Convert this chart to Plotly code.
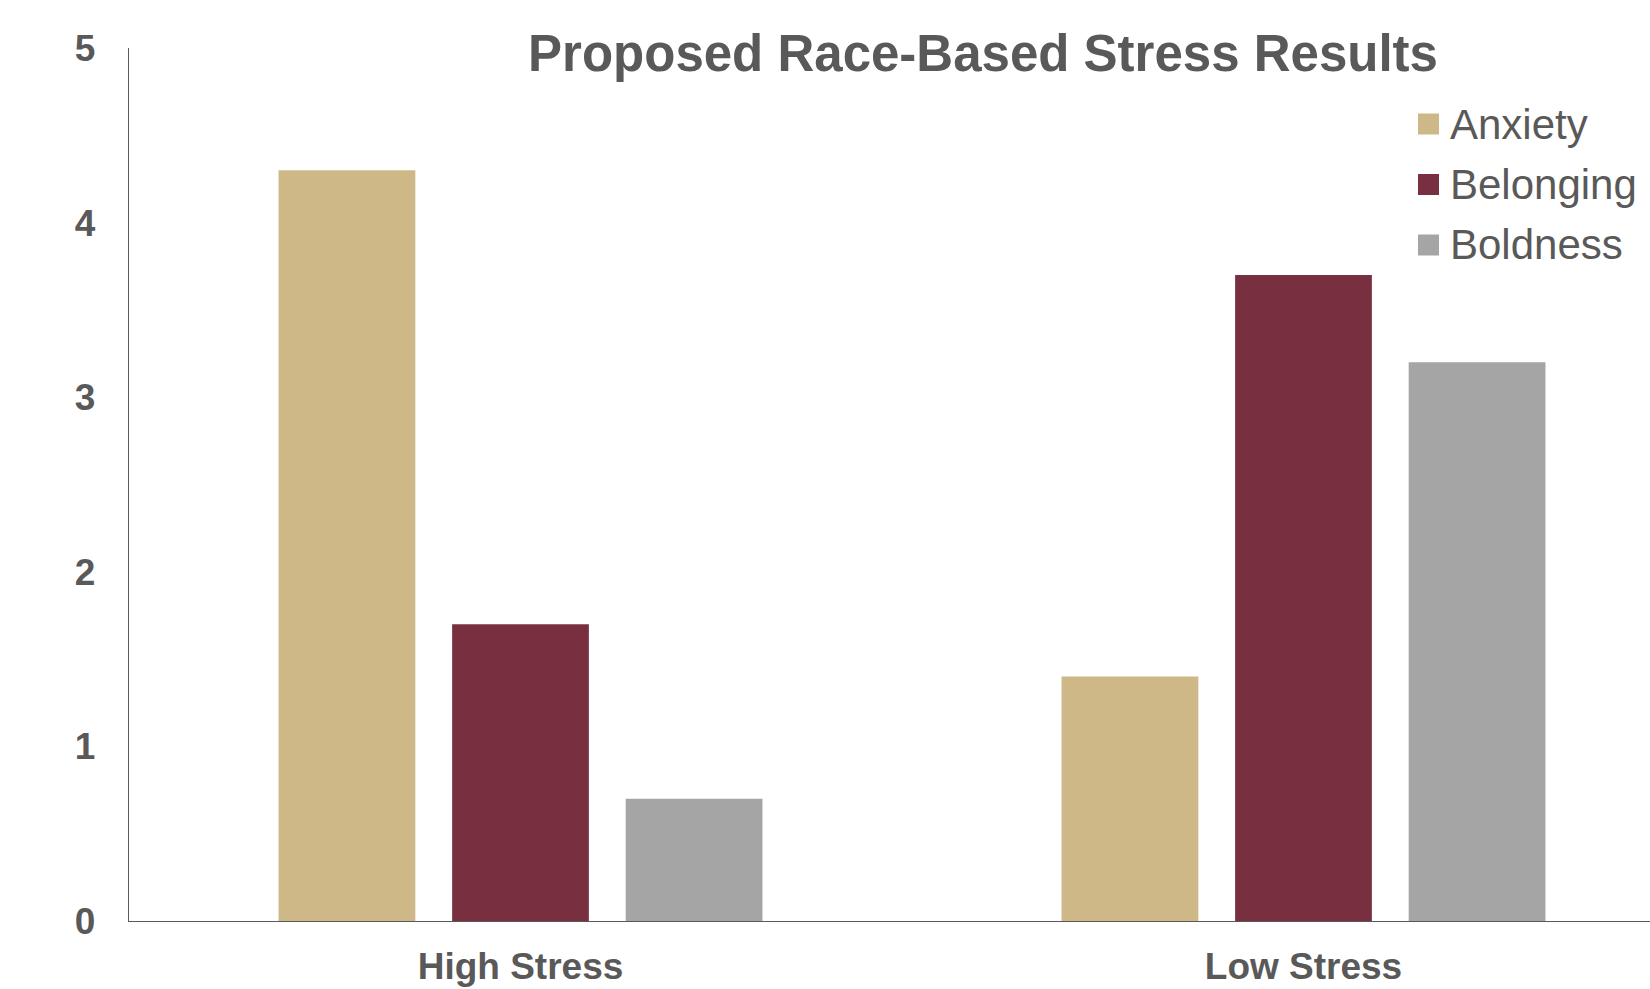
import plotly.graph_objects as go

# Chart data
categories = ["High Stress", "Low Stress"]
series_names = ["Anxiety", "Belonging", "Boldness"]
anxiety = [4.3, 1.4]
belonging = [1.7, 3.7]
boldness = [0.7, 3.2]
series_values = [anxiety, belonging, boldness]
series_colors = ["#CEB888", "#782F40", "#A5A5A5"]
y_ticks = [0, 1, 2, 3, 4, 5]

W, H = 1650, 989
ML, MR, MT, MB = 129, 0, 48, 68
FONT = "Arial, Liberation Sans, sans-serif"
GRAY = "#595959"

fig = go.Figure()
for name, vals, col in zip(series_names, series_values, series_colors):
    fig.add_trace(go.Bar(
        x=categories, y=vals, name=name,
        marker=dict(color=col, line=dict(width=0)),
        showlegend=False,
    ))

# Custom legend: colored squares with labels on the upper right
plot_w = W - ML - MR
plot_h = H - MT - MB
def px_to_paper(px, py):
    return (px - ML) / plot_w, (H - MB - py) / plot_h

shapes = []
annotations = []
sq = 21
for i, (name, col) in enumerate(zip(series_names, series_colors)):
    cy = 124 + i * 60.5
    x0, y0 = px_to_paper(1418, cy + sq / 2)
    x1, y1 = px_to_paper(1418 + sq, cy - sq / 2)
    shapes.append(dict(type="rect", xref="paper", yref="paper",
                       x0=x0, y0=y0, x1=x1, y1=y1,
                       fillcolor=col, line=dict(width=0)))
    tx, ty = px_to_paper(1448, cy)
    annotations.append(dict(xref="paper", yref="paper", x=tx, y=ty,
                            xanchor="left", yanchor="middle", showarrow=False,
                            text=name, font=dict(family=FONT, size=42, color=GRAY)))

# Category axis extends past the right edge of the canvas
cat_px = 783.0
x_max = -0.5 + plot_w / cat_px

fig.update_layout(
    width=W, height=H,
    margin=dict(l=ML, r=MR, t=MT, b=MB, pad=0),
    paper_bgcolor="white", plot_bgcolor="white",
    barmode="group", bargap=0.335, bargroupgap=0.212,
    title=dict(text="<b>Proposed Race-Based Stress Results</b>",
               x=983 / W, xanchor="center", y=1 - 53 / H, yanchor="middle",
               font=dict(family=FONT, size=51, color=GRAY)),
    font=dict(family=FONT, color=GRAY),
    shapes=shapes, annotations=annotations,
    xaxis=dict(range=[-0.5, x_max], showgrid=False, zeroline=False,
               showline=True, linecolor=GRAY, linewidth=1.3, automargin=False,
               ticks="", ticklabelstandoff=12,
               tickfont=dict(family=FONT, size=37, color=GRAY, weight="bold")),
    yaxis=dict(range=[0, 5], tickvals=y_ticks, showgrid=False, zeroline=False,
               showline=True, linecolor=GRAY, linewidth=1.3, automargin=False,
               ticks="", ticklabelstandoff=25,
               tickfont=dict(family=FONT, size=37, color=GRAY, weight="bold")),
)

fig.write_html("out.html")
